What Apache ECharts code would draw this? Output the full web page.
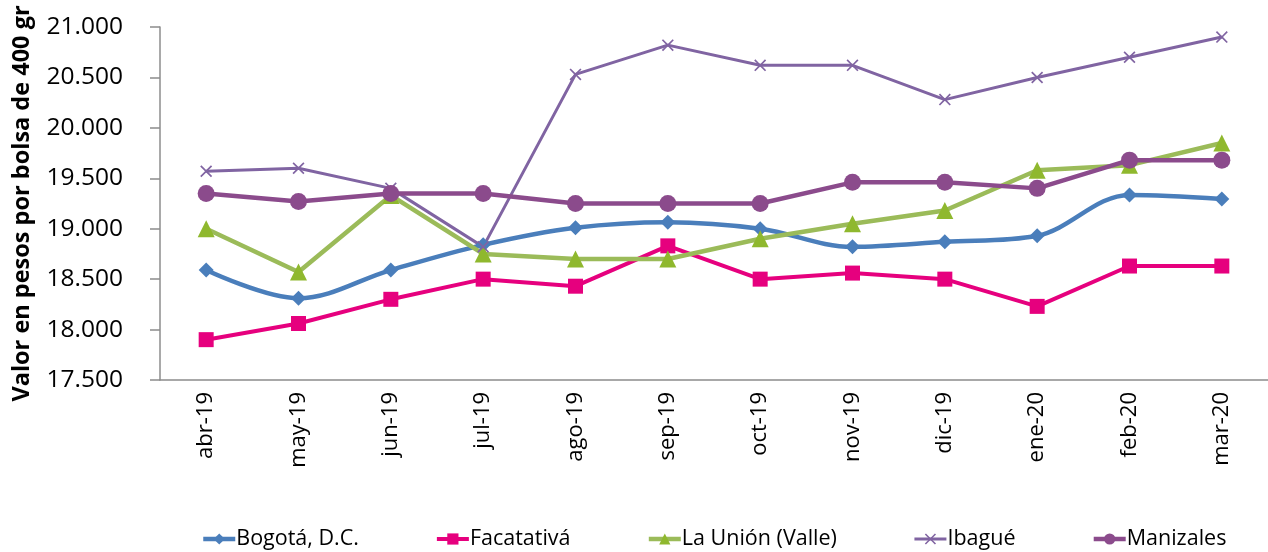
<!DOCTYPE html>
<html>
<head>
<meta charset="utf-8">
<script src="https://cdn.jsdelivr.net/npm/echarts@6/dist/echarts.min.js"></script>
<style>
  html, body { margin: 0; padding: 0; background: #fff; }
  #chart { width: 1268px; height: 552px; }
</style>
</head>
<body>
<div id="chart"></div>
<script>
// categorías (meses)
const meses = ["abr-19", "may-19", "jun-19", "jul-19", "ago-19", "sep-19", "oct-19", "nov-19", "dic-19", "ene-20", "feb-20", "mar-20"];
// precios por ciudad
const bogota = [18590, 18310, 18590, 18840, 19010, 19065, 19000, 18820, 18870, 18930, 19335, 19295];
const facatativa = [17900, 18060, 18300, 18500, 18430, 18830, 18500, 18560, 18500, 18230, 18630, 18630];
const laUnion = [19000, 18570, 19330, 18750, 18700, 18700, 18900, 19050, 19180, 19580, 19630, 19850];
const ibague = [19570, 19600, 19400, 18820, 20530, 20820, 20620, 20620, 20280, 20500, 20700, 20900];
const manizales = [19350, 19270, 19350, 19350, 19250, 19250, 19250, 19460, 19460, 19400, 19680, 19680];
// eje y
const yMin = 17500;
const yMax = 21000;
const yPaso = 500;

const fuente = "'Open Sans', 'Noto Sans', sans-serif";
// formato 21.000
function miles(v) {
  return String(v).replace(/\B(?=(\d{3})+(?!\d))/g, ".");
}
// símbolo en forma de X
const cruz = "path://M0,1 L1,0 L5,4 L9,0 L10,1 L6,5 L10,9 L9,10 L5,6 L1,10 L0,9 L4,5 Z";

const myChart = echarts.init(document.querySelector("#chart"));
const option = {
  animation: false,
  textStyle: { fontFamily: fuente },
  grid: {
    left: 160,
    right: 0,
    top: 27,
    bottom: 172,
  },
  legend: {
    top: 523,
    left: 196,
    itemWidth: 32,
    itemHeight: 14,
    itemGap: 76,
    lineStyle: { width: "inherit" },
    textStyle: { fontSize: 21.5, color: "#000", fontFamily: fuente, padding: [0, 0, 0, -4] },
  },
  xAxis: {
    type: "category",
    data: meses,
    axisLine: { lineStyle: { color: "#8c8c8c", width: 1.5 } },
    axisTick: { show: false },
    axisLabel: {
      rotate: 90,
      fontSize: 22,
      color: "#000",
      margin: 12,
      fontFamily: fuente,
    },
  },
  yAxis: {
    type: "value",
    min: yMin,
    max: yMax,
    interval: yPaso,
    name: "Valor en pesos por bolsa de 400 gr",
    nameLocation: "middle",
    nameRotate: 90,
    nameGap: 126,
    nameTextStyle: { fontSize: 23.5, fontWeight: "bold", color: "#000", fontFamily: fuente },
    axisLine: { show: true, lineStyle: { color: "#8c8c8c", width: 1.5 } },
    axisTick: { show: true, length: 10, lineStyle: { color: "#8c8c8c", width: 1.5 } },
    splitLine: { show: false },
    axisLabel: {
      fontSize: 24.5,
      color: "#000",
      margin: 37,
      fontFamily: fuente,
      formatter: miles,
    },
  },
  series: [
    {
      name: "Bogotá, D.C.",
      type: "line",
      data: bogota,
      smooth: 0.35,
      symbol: "diamond",
      symbolSize: 15,
      color: "#4a7ebb",
      lineStyle: { width: 4.5 },
    },
    {
      name: "Facatativá",
      type: "line",
      data: facatativa,
      symbol: "rect",
      symbolSize: 15,
      color: "#e6007e",
      lineStyle: { width: 4 },
    },
    {
      name: "La Unión (Valle)",
      type: "line",
      data: laUnion,
      symbol: "triangle",
      symbolSize: 17,
      color: "#9bbb59",
      itemStyle: { color: "#8fb82e" },
      lineStyle: { width: 4.5, color: "#9bbb59" },
    },
    {
      name: "Ibagué",
      type: "line",
      data: ibague,
      symbol: cruz,
      symbolSize: 12,
      color: "#8064a2",
      lineStyle: { width: 3 },
    },
    {
      name: "Manizales",
      type: "line",
      data: manizales,
      symbol: "circle",
      symbolSize: 17,
      color: "#8b4b8c",
      lineStyle: { width: 4.5 },
    },
  ],
};
myChart.setOption(option);
</script>
</body>
</html>
